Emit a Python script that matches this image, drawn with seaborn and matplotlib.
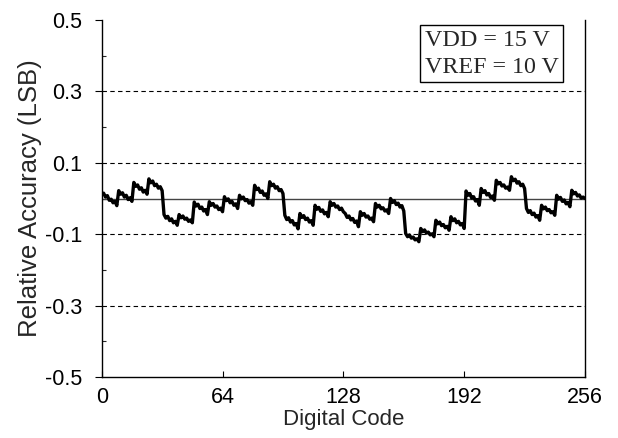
import numpy as np
import pandas as pd
import seaborn as sns
from matplotlib import pyplot as plt
from matplotlib.ticker import MultipleLocator

# Relative accuracy, in milli-LSB.
# first value is code 0, then one row per block of 8 codes (1-8, 9-16, ...)
start_value = [10]
blocks = [
    [15, 4, 8, -5, -2, -12, -8, -20],
    [22, 12, 16, 4, 9, -3, 2, -8],
    [45, 34, 38, 26, 30, 18, 23, 12],
    [55, 44, 49, 36, 40, 29, 33, 22],
    [-45, -55, -50, -62, -57, -68, -64, -75],
    [-45, -54, -49, -58, -55, -64, -60, -68],
    [-10, -21, -16, -28, -24, -35, -31, -45],
    [-9, -19, -14, -24, -21, -31, -27, -37],
    [5, -6, -1, -12, -8, -19, -15, -28],
    [9, -1, 4, -6, -3, -13, -9, -19],
    [37, 25, 29, 17, 21, 9, 13, 0],
    [47, 36, 40, 29, 33, 22, 25, 14],
    [-47, -59, -54, -66, -62, -74, -70, -85],
    [-42, -53, -48, -59, -55, -66, -62, -75],
    [-19, -30, -25, -36, -32, -43, -39, -51],
    [-9, -19, -14, -24, -21, -31, -27, -37],
    [-42, -53, -49, -60, -56, -67, -63, -79],
    [-37, -47, -42, -52, -49, -58, -55, -65],
    [-14, -24, -19, -29, -26, -35, -32, -42],
    [0, -11, -6, -17, -13, -24, -20, -35],
    [-98, -107, -102, -111, -108, -116, -113, -121],
    [-84, -93, -88, -97, -94, -102, -99, -107],
    [-61, -71, -66, -76, -73, -82, -78, -89],
    [-51, -62, -57, -68, -64, -74, -70, -84],
    [21, 9, 14, 1, 5, -7, -3, -19],
    [28, 17, 22, 10, 14, 3, 7, -5],
    [51, 41, 45, 35, 38, 29, 32, 23],
    [61, 50, 54, 43, 47, 36, 40, 28],
    [-28, -39, -34, -45, -41, -52, -48, -61],
    [-19, -29, -24, -34, -31, -40, -37, -47],
    [9, -2, 3, -8, -4, -15, -11, -23],
    [23, 13, 17, 7, 10, 1, 4, 0],
]

x_ticks = [0, 64, 128, 192, 256]
y_ticks = [-0.5, -0.3, -0.1, 0.1, 0.3, 0.5]
grid_levels = [-0.3, -0.1, 0.1, 0.3]

values = np.array(start_value + [v for b in blocks for v in b]) / 1000.0
df = pd.DataFrame({'code': np.arange(len(values)), 'ra': values})

sns.set_style('white')
plt.rcParams['font.family'] = ['Liberation Sans', 'DejaVu Sans']

fig = plt.figure(figsize=(6.18, 4.38), dpi=100)
ax = fig.add_axes([0.1646, 0.1393, 0.782, 0.815])

for g in grid_levels:
    ax.axhline(g, color='black', lw=0.8, ls=(0, (4, 3)), zorder=1)
ax.axhline(0, color='#444444', lw=1.0, zorder=1)

sns.lineplot(data=df, x='code', y='ra', color='black', lw=2.4, ax=ax, zorder=3)

ax.set_xlim(0, 256)
ax.set_ylim(-0.5, 0.5)
ax.set_xticks(x_ticks)
ax.set_yticks(y_ticks)
ax.set_yticklabels(['-0.5', '-0.3', '-0.1', '0.1', '0.3', '0.5'])
ax.yaxis.set_minor_locator(MultipleLocator(0.1))
ax.tick_params(axis='y', which='major', direction='out', length=5, width=0.8,
               labelsize=15.5, colors='black', left=True, pad=9)
ax.tick_params(axis='x', which='major', direction='in', length=4, width=0.8,
               labelsize=15.5, colors='black', bottom=True, pad=7)
ax.tick_params(axis='y', which='minor', direction='in', length=3, width=0.8, left=True)

ax.set_xlabel('Digital Code', fontsize=16, labelpad=1)
ax.set_ylabel('Relative Accuracy (LSB)', fontsize=18.5, labelpad=2)

ax.spines['top'].set_visible(False)
for s in ['left', 'right', 'bottom']:
    ax.spines[s].set_color('black')
    ax.spines[s].set_linewidth(1.0)

ax.text(0.668, 0.972, 'VDD = 15 V\nVREF = 10 V', transform=ax.transAxes,
        ha='left', va='top', fontsize=17.3, family=['Liberation Serif', 'DejaVu Serif'],
        linespacing=1.35,
        bbox=dict(boxstyle='square,pad=0.2', facecolor='white', edgecolor='black', lw=1.0),
        zorder=5)

fig.savefig('out.png', dpi=100)
